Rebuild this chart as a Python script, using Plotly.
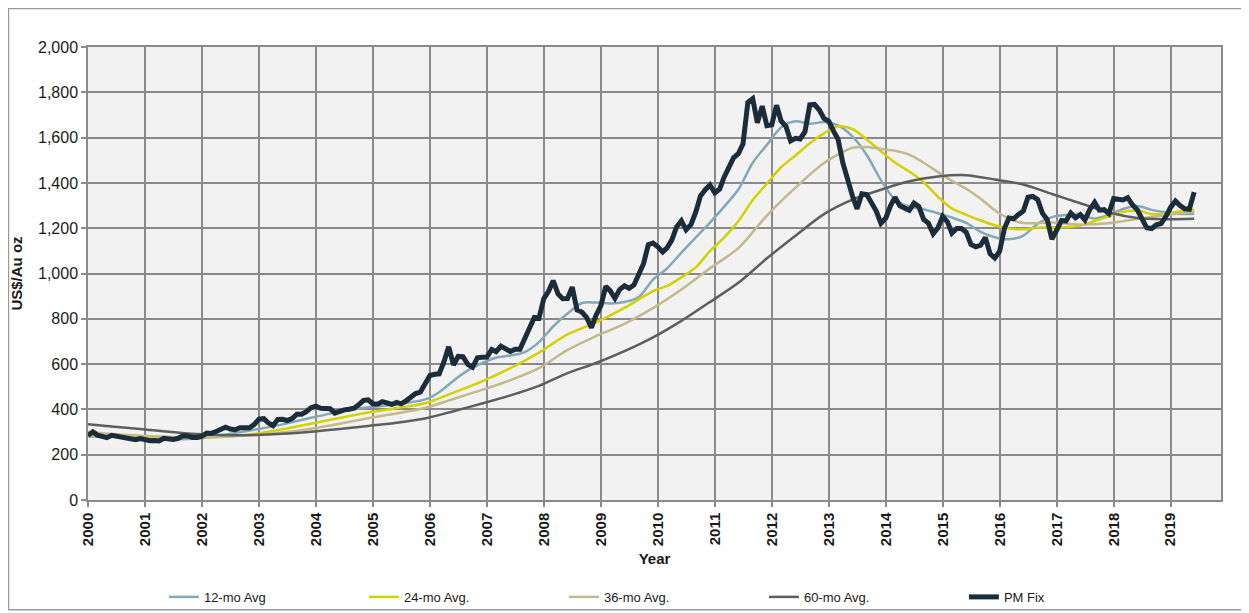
import pandas as pd
import plotly.graph_objects as go

# ---------------- data ----------------
pm_fix = [
    284.6, 300.9, 286.4, 280.0, 275.3, 285.7, 281.6, 274.5, 273.7, 270.0, 266.0, 271.5,
    265.5, 261.9, 263.0, 260.5, 272.4, 270.2, 267.5, 272.4, 283.4, 283.1, 276.2, 275.9,
    281.7, 295.5, 294.0, 302.7, 314.5, 321.2, 313.3, 310.3, 319.2, 316.6, 319.2, 333.4,
    356.9, 359.0, 340.6, 328.2, 355.7, 356.4, 351.0, 359.8, 378.9, 378.9, 389.9, 407.6,
    414.0, 405.3, 406.7, 403.0, 383.5, 392.4, 398.1, 400.5, 405.3, 420.5, 439.4, 442.1,
    424.0, 423.4, 434.2, 429.2, 421.9, 430.7, 424.5, 437.9, 456.0, 469.9, 476.7, 509.8,
    549.9, 555.0, 557.1, 610.6, 676.5, 596.2, 633.8, 632.6, 598.2, 585.8, 627.8, 629.8,
    631.2, 664.8, 654.9, 679.4, 666.9, 655.5, 665.3, 665.4, 712.7, 754.6, 806.2, 803.2,
    889.6, 922.3, 968.4, 909.7, 888.7, 889.5, 939.8, 839.0, 829.9, 806.6, 760.9, 816.1,
    858.7, 943.2, 924.3, 890.2, 928.6, 945.7, 934.2, 949.4, 996.6, 1043.2, 1127.0, 1134.7,
    1118.0, 1095.4, 1113.3, 1148.7, 1205.4, 1232.9, 1193.0, 1215.8, 1271.0, 1342.0, 1369.9, 1390.6,
    1356.4, 1372.7, 1424.0, 1473.8, 1510.4, 1528.7, 1572.8, 1755.8, 1771.9, 1665.2, 1739.0, 1652.3,
    1656.1, 1742.6, 1673.8, 1650.1, 1585.5, 1596.7, 1593.9, 1626.0, 1744.5, 1746.6, 1721.6, 1684.8,
    1671.9, 1627.6, 1593.1, 1487.9, 1414.0, 1343.4, 1285.5, 1351.7, 1348.6, 1316.6, 1275.8, 1221.5,
    1244.3, 1300.0, 1336.1, 1299.0, 1287.5, 1279.1, 1310.6, 1295.1, 1238.8, 1222.5, 1175.3, 1200.6,
    1251.9, 1227.1, 1178.6, 1198.9, 1198.6, 1181.5, 1128.3, 1117.9, 1124.8, 1159.3, 1086.4, 1068.3,
    1097.9, 1199.5, 1245.1, 1242.3, 1260.9, 1276.4, 1336.7, 1340.2, 1326.6, 1266.4, 1238.4, 1151.4,
    1192.1, 1234.2, 1231.4, 1266.9, 1245.9, 1260.3, 1236.8, 1283.0, 1314.1, 1279.5, 1281.9, 1264.5,
    1331.3, 1330.7, 1324.7, 1334.8, 1303.5, 1281.6, 1238.0, 1201.7, 1198.4, 1215.4, 1220.7, 1250.4,
    1291.8, 1320.1, 1300.9, 1285.9, 1283.7, 1359.0,
]
pm_start = "2000-01-01"

avg12_dates = ["2000-01", "2000-06", "2000-12", "2001-06", "2001-12", "2002-06", "2002-12",
               "2003-06", "2003-12", "2004-06", "2004-12", "2005-06", "2005-12",
               "2006-03", "2006-06", "2006-09", "2006-12", "2007-03", "2007-06", "2007-09", "2007-12",
               "2008-03", "2008-06", "2008-09", "2008-12", "2009-03", "2009-06", "2009-09", "2009-12",
               "2010-03", "2010-06", "2010-09", "2010-12", "2011-03", "2011-06", "2011-09", "2011-12",
               "2012-03", "2012-06", "2012-09", "2012-12", "2013-03", "2013-06", "2013-09", "2013-12",
               "2014-03", "2014-06", "2014-09", "2014-12", "2015-03", "2015-06", "2015-09", "2015-12",
               "2016-03", "2016-06", "2016-09", "2016-12", "2017-03", "2017-06", "2017-09", "2017-12",
               "2018-03", "2018-06", "2018-09", "2018-12", "2019-03", "2019-06"]
avg12 = [280, 282, 279, 269, 271, 289, 310,
         334, 363, 389, 409, 422, 444,
         476, 527, 572, 604, 628, 638, 653, 697,
         766, 823, 870, 872, 868, 874, 896, 973,
         1023, 1092, 1159, 1225, 1294, 1371, 1489, 1568,
         1645, 1672, 1661, 1669, 1654, 1605, 1523, 1412,
         1327, 1295, 1284, 1266, 1247, 1223, 1184, 1160,
         1151, 1167, 1220, 1249, 1258, 1258, 1243, 1258,
         1285, 1298, 1281, 1270, 1263, 1264]

avg24_dates = ["2000-01", "2000-06", "2000-12", "2001-06", "2001-12", "2002-06", "2002-12",
               "2003-06", "2003-12", "2004-06", "2004-12", "2005-06", "2005-12", "2006-06", "2006-12",
               "2007-06", "2007-12", "2008-06", "2008-12", "2009-06", "2009-12",
               "2010-03", "2010-06", "2010-09", "2010-12", "2011-03", "2011-06", "2011-09", "2011-12",
               "2012-03", "2012-06", "2012-09", "2012-12", "2013-03", "2013-06", "2013-09", "2013-12",
               "2014-03", "2014-06", "2014-09", "2014-12", "2015-03", "2015-06", "2015-09", "2015-12",
               "2016-03", "2016-06", "2016-09", "2016-12", "2017-03", "2017-06", "2017-09", "2017-12",
               "2018-03", "2018-06", "2018-09", "2018-12", "2019-03", "2019-06"]
avg24 = [286, 283, 279, 275, 275, 279, 291,
         312, 337, 362, 386, 406, 427, 474, 524,
         582, 651, 731, 784, 848, 922,
         945, 983, 1027, 1099, 1158, 1231, 1324, 1397,
         1469, 1521, 1575, 1619, 1649, 1638, 1592, 1540,
         1490, 1450, 1403, 1339, 1287, 1259, 1234, 1213,
         1199, 1195, 1202, 1204, 1204, 1212, 1232, 1253,
         1272, 1278, 1262, 1264, 1274, 1281]

avg36_dates = ["2000-01", "2000-06", "2000-12", "2001-06", "2001-12", "2002-06", "2002-12",
               "2003-06", "2003-12", "2004-06", "2004-12", "2005-06", "2005-12", "2006-06", "2006-12",
               "2007-06", "2007-12", "2008-06", "2008-12", "2009-06", "2009-12", "2010-06", "2010-12",
               "2011-06", "2011-12", "2012-06", "2012-12", "2013-06", "2013-09", "2013-12",
               "2014-03", "2014-06", "2014-09", "2014-12", "2015-03", "2015-06", "2015-09", "2015-12",
               "2016-03", "2016-06", "2016-12", "2017-06", "2017-12", "2018-06", "2018-12", "2019-06"]
avg36 = [301, 291, 284, 279, 276, 280, 287,
         298, 315, 337, 361, 382, 406, 446, 486,
         529, 582, 663, 724, 778, 847, 929, 1023,
         1112, 1256, 1379, 1488, 1555, 1558, 1550,
         1542, 1525, 1489, 1448, 1409, 1374, 1330, 1279,
         1242, 1223, 1225, 1216, 1222, 1241, 1258, 1273]

avg60_dates = ["2000-01", "2000-06", "2000-12", "2001-06", "2001-12", "2002-06", "2002-12",
               "2003-06", "2003-12", "2004-06", "2004-12", "2005-06", "2005-12", "2006-06", "2006-12",
               "2007-06", "2007-12", "2008-06", "2008-12", "2009-06", "2009-12", "2010-06", "2010-12",
               "2011-06", "2011-12", "2012-06", "2012-12", "2013-06", "2013-12", "2014-06", "2014-12",
               "2015-06", "2015-12", "2016-06", "2016-12", "2017-06", "2017-12", "2018-06", "2018-12",
               "2019-06"]
avg60 = [335, 325, 314, 301, 291, 286, 287,
         292, 301, 313, 327, 341, 360, 392, 426,
         462, 504, 560, 605, 657, 718, 791, 874,
         959, 1067, 1167, 1262, 1326, 1370, 1407, 1428,
         1434, 1415, 1393, 1351, 1310, 1269, 1245, 1240,
         1242]

years = list(range(2000, 2020))
year_labels = [str(y) for y in years]

# ---------------- figure ----------------
pm_dates = pd.date_range(pm_start, periods=len(pm_fix), freq="MS")

def to_dates(lst):
    return pd.to_datetime([d + "-01" for d in lst])

series = [
    ("12-mo Avg", avg12_dates, avg12, "#82a9b6", 2.5),
    ("24-mo Avg.", avg24_dates, avg24, "#d3d200", 2.5),
    ("36-mo Avg.", avg36_dates, avg36, "#c3b98d", 2.5),
    ("60-mo Avg.", avg60_dates, avg60, "#5e5e5e", 2.5),
]

fig = go.Figure()
for name, d, v, c, w in series:
    fig.add_trace(go.Scatter(x=to_dates(d), y=v, name=name, mode="lines",
                             line=dict(color=c, width=w, shape="spline", smoothing=0.8)))
fig.add_trace(go.Scatter(x=pm_dates, y=pm_fix, name="PM Fix", mode="lines",
                         line=dict(color="#1b2d3a", width=5)))

font_family = "Liberation Sans, Arial, sans-serif"
grid_col = "#8a8a8a"

# the page adds an 8px body margin, so the figure is sized 8px smaller
fig.update_layout(
    width=1241, height=605,
    margin=dict(l=80, r=28, t=39, b=113, autoexpand=False),
    paper_bgcolor="white",
    plot_bgcolor="#f2f2f2",
    font=dict(family=font_family, color="#1a1a1a"),
    showlegend=True,
    legend=dict(orientation="h", x=0.067, y=-0.214, xanchor="left", yanchor="middle",
                entrywidth=155, entrywidthmode="pixels",
                font=dict(size=13, color="#1a1a1a"), bgcolor="rgba(0,0,0,0)"),
    shapes=[dict(type="rect", xref="paper", yref="paper",
                 x0=-0.0702, x1=1.0218, y0=-0.2425, y1=1.0849,
                 line=dict(color="#9a9a9a", width=1.5), fillcolor="rgba(0,0,0,0)", layer="below")],
)

fig.update_xaxes(
    type="date",
    range=["2000-01-01", "2019-11-20"],
    tickvals=pd.to_datetime([f"{y}-01-01" for y in years]),
    ticktext=year_labels,
    tickangle=-90,
    tickfont=dict(size=15, family=font_family, color="#1a1a1a", weight="bold"),
    showgrid=True, gridcolor=grid_col, gridwidth=1.5,
    showline=True, linecolor=grid_col, linewidth=1.5, mirror=True,
    ticks="outside", ticklen=5, tickcolor=grid_col, tickwidth=1.5,
    title=dict(text="<b>Year</b>", font=dict(size=15, color="#1a1a1a"), standoff=8),
    zeroline=False, automargin=False,
)
fig.update_yaxes(
    range=[0, 2000], dtick=200, tickformat=",",
    tickfont=dict(size=16, family=font_family, color="#1a1a1a"),
    showgrid=True, gridcolor=grid_col, gridwidth=1.5,
    showline=True, linecolor=grid_col, linewidth=1.5, mirror=True,
    ticks="outside", ticklen=5, tickcolor=grid_col, tickwidth=1.5,
    title=dict(text="<b>US$/Au oz</b>", font=dict(size=15, color="#1a1a1a"), standoff=12),
    zeroline=False, automargin=False,
)

fig.write_html("out.html")
